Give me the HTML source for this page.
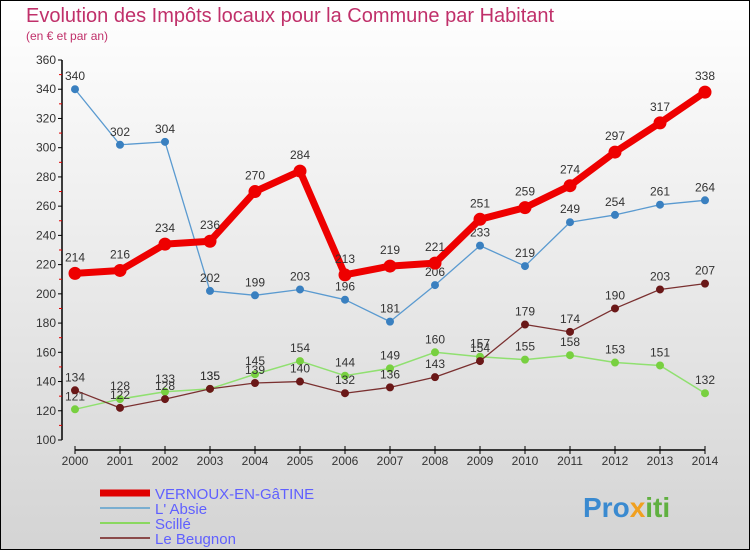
<!DOCTYPE html>
<html><head><meta charset="utf-8"><style>
body{margin:0}
#c{width:750px;height:550px;position:relative;overflow:hidden;font-family:"Liberation Sans",sans-serif}
</style></head><body>
<div id="c">
<svg id="s" width="750" height="550" xmlns="http://www.w3.org/2000/svg">
<defs><linearGradient id="bg" x1="0" y1="0" x2="0" y2="1"><stop offset="0" stop-color="#ffffff"/><stop offset="1" stop-color="#d4d4d4"/></linearGradient></defs>
<rect x="0.5" y="0.5" width="749" height="549" fill="url(#bg)" stroke="#000"/>
<text x="26" y="22" font-size="20" fill="#c0306a">Evolution des Impôts locaux pour la Commune par Habitant</text>
<text x="26" y="40" font-size="12" fill="#c0306a">(en € et par an)</text>
<g id="axes"></g>
<g id="series"></g>
<g>
<line x1="100" y1="493" x2="150" y2="493" stroke="#e00000" stroke-width="7"/>
<text x="155" y="499" font-size="15" fill="#6060ff">VERNOUX-EN-GâTINE</text>
<line x1="100" y1="508" x2="150" y2="508" stroke="#7aaed0" stroke-width="2"/>
<text x="155" y="514" font-size="15" fill="#6060ff">L' Absie</text>
<line x1="100" y1="523" x2="150" y2="523" stroke="#8ad860" stroke-width="2"/>
<text x="155" y="529" font-size="15" fill="#6060ff">Scillé</text>
<line x1="100" y1="538" x2="150" y2="538" stroke="#8a4a4a" stroke-width="2"/>
<text x="155" y="544" font-size="15" fill="#6060ff">Le Beugnon</text>
</g>
<text x="583" y="517" font-size="28" font-weight="bold" fill="#3a8ad0">Pro<tspan fill="#f0a020">x</tspan><tspan fill="#60b040">iti</tspan></text>
</svg>
</div>
<script>
const years=[2000,2001,2002,2003,2004,2005,2006,2007,2008,2009,2010,2011,2012,2013,2014];
const yTicks=[100,120,140,160,180,200,220,240,260,280,300,320,340,360];
const vernoux=[214,216,234,236,270,284,213,219,221,251,259,274,297,317,338];
const absie=[340,302,304,202,199,203,196,181,206,233,219,249,254,261,264];
const scille=[121,128,133,135,145,154,144,149,160,157,155,158,153,151,132];
const beugnon=[134,122,128,135,139,140,132,136,143,154,179,174,190,203,207];
const NS="http://www.w3.org/2000/svg";
function X(i){return 75+i*45;}
function Y(v){return 440-(v-100)*380/260;}
function mk(tag,attrs,parent){const e=document.createElementNS(NS,tag);for(const k in attrs)e.setAttribute(k,attrs[k]);parent.appendChild(e);return e;}
const ax=document.getElementById('axes');
let yl=mk('line',{x1:62,y1:Y(360),x2:62,y2:440,stroke:'#000','stroke-width':1.5},ax);


yTicks.forEach((t,i)=>{
  mk('line',{x1:58,y1:Y(t),x2:62,y2:Y(t),stroke:'#000'},ax);
  if(i<yTicks.length-1) mk('line',{x1:59,y1:Y(t+10),x2:62,y2:Y(t+10),stroke:'#e00000'},ax);
  const tx=mk('text',{x:56,y:Y(t)+4,'font-size':12,fill:'#333','text-anchor':'end'},ax);
  tx.textContent=t;
  
  
});
let xl=mk('line',{x1:75,y1:450,x2:705,y2:450,stroke:'#000','stroke-width':1.5},ax);


years.forEach((y,i)=>{
  mk('line',{x1:X(i),y1:446,x2:X(i),y2:454,stroke:'#000'},ax);
  const tx=mk('text',{x:X(i),y:465,'font-size':12,fill:'#333','text-anchor':'middle'},ax);
  tx.textContent=y;
  
  
});
const sg=document.getElementById('series');
function draw(vals,name,color,w,r,fill,labelDy){
  const g=mk('g',{},sg);
  
  
  const pl=mk('polyline',{points:vals.map((v,i)=>X(i)+','+Y(v)).join(' '),fill:'none',stroke:color,'stroke-width':w,'stroke-linejoin':'round'},g);
  
  
  vals.forEach((v,i)=>{
    const c=mk('circle',{cx:X(i),cy:Y(v),r:r,fill:fill,stroke:fill},g);
    
    
    const t=mk('text',{x:X(i),y:Y(v)+labelDy,'font-size':12,fill:'#333','text-anchor':'middle'},g);
    t.textContent=v;
    
    
  });
}
draw(absie,'absie','#5a9ad0',1.3,3.5,'#3a80c0',-9);
draw(scille,'scille','#90e070',1.5,3.5,'#78d040',-9);
draw(beugnon,'beugnon','#7a3030',1.3,3.5,'#6a1818',-9);
draw(vernoux,'vernoux','#ee0000',7,6,'#ee0000',-12);
</script>
</body></html>
